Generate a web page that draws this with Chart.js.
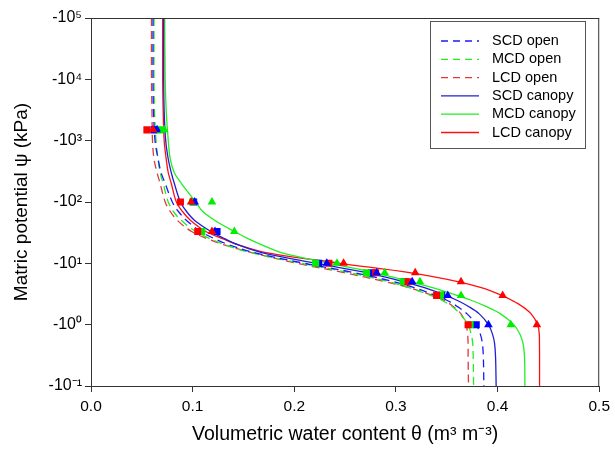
<!DOCTYPE html>
<html><head><meta charset="utf-8">
<script src="https://cdn.jsdelivr.net/npm/chart.js@4.4.1/dist/chart.umd.min.js"></script>
<style>html,body{margin:0;padding:0;background:#fff}#wrap{width:615px;height:450px}</style>
</head><body><div id="wrap"><canvas id="c" width="615" height="450"></canvas></div>
<script>
// matric potential levels (|psi|, kPa) at which fitted curves were read
const psiLevels = [100000, 10000, 3000, 1000, 500, 300, 200, 100, 70, 50, 33, 25, 20, 15, 10, 7, 5, 4, 3, 2.5, 2, 1.5, 1, 0.7, 0.5, 0.3, 0.1];
// fitted curves (theta, m3 m-3)
const scdOpenFit   = [0.061,0.061,0.0615,0.063,0.066,0.069,0.073,0.080,0.086,0.094,0.108,0.122,0.136,0.160,0.210,0.260,0.298,0.318,0.339,0.350,0.360,0.370,0.379,0.383,0.385,0.386,0.3865];
const mcdOpenFit   = [0.062,0.062,0.0625,0.064,0.066,0.068,0.071,0.076,0.081,0.089,0.103,0.118,0.132,0.157,0.207,0.255,0.293,0.313,0.334,0.345,0.355,0.363,0.371,0.374,0.3755,0.376,0.3764];
const lcdOpenFit   = [0.0595,0.0595,0.060,0.0605,0.062,0.065,0.068,0.073,0.078,0.085,0.099,0.115,0.131,0.158,0.203,0.250,0.290,0.313,0.336,0.347,0.356,0.364,0.369,0.3705,0.371,0.371,0.3714];
const scdCanopyFit = [0.0715,0.0715,0.072,0.0735,0.076,0.079,0.082,0.088,0.094,0.102,0.118,0.132,0.145,0.168,0.222,0.272,0.308,0.328,0.349,0.360,0.371,0.382,0.391,0.395,0.397,0.398,0.3986];
const mcdCanopyFit = [0.0725,0.073,0.074,0.076,0.078,0.082,0.089,0.103,0.110,0.122,0.141,0.155,0.168,0.187,0.235,0.280,0.315,0.336,0.360,0.374,0.388,0.403,0.416,0.422,0.425,0.4265,0.4269];
const lcdCanopyFit = [0.0705,0.0705,0.071,0.072,0.074,0.076,0.079,0.084,0.090,0.098,0.113,0.130,0.145,0.172,0.245,0.315,0.362,0.384,0.404,0.414,0.424,0.433,0.4395,0.441,0.4412,0.4413,0.4413];
// measured points
const obsPsi = [1500, 100, 33, 10, 7, 5, 3, 1];
const scdOpenObs   = [0.062, 0.101, 0.124, 0.224, 0.276, 0.309, 0.345, 0.379];
const mcdOpenObs   = [0.068, 0.100, 0.109, 0.221, 0.271, 0.307, 0.344, 0.373];
const lcdOpenObs   = [0.055, 0.088, 0.105, 0.234, 0.280, 0.312, 0.340, 0.371];
const scdCanopyObs = [0.065, 0.102, 0.122, 0.232, 0.281, 0.316, 0.351, 0.391];
const mcdCanopyObs = [0.072, 0.119, 0.141, 0.242, 0.289, 0.3236, 0.364, 0.413];
const lcdCanopyObs = [0.061, 0.0985, 0.119, 0.2485, 0.319, 0.364, 0.405, 0.4387];
const yTickValues = [0.1, 1, 10, 100, 1000, 10000, 100000];
const yTickLabels = ['-10\u207B\u00B9', '-10\u2070', '-10\u00B9', '-10\u00B2', '-10\u00B3', '-10\u2074', '-10\u2075'];
const xTickLabels = ['0.0', '0.1', '0.2', '0.3', '0.4', '0.5'];
const seriesNames = ['SCD open', 'MCD open', 'LCD open', 'SCD canopy', 'MCD canopy', 'LCD canopy'];

const FONT = "'Liberation Sans', Arial, sans-serif";
const pts = (th, ps) => th.map((t, i) => ({x: t, y: ps[i]}));
const BLUE = '#0000ff', GREEN = '#00ee00', RED = '#ff0000';
const styles = [
  {c: '#1a1aff', dash: [8, 5]},
  {c: '#22ee22', dash: [8, 5]},
  {c: '#dd3a3a', dash: [8, 5]},
  {c: '#2020d0', dash: []},
  {c: '#22ee22', dash: []},
  {c: '#ff1010', dash: []}
];
const fits = [scdOpenFit, mcdOpenFit, lcdOpenFit, scdCanopyFit, mcdCanopyFit, lcdCanopyFit];
const obs = [scdOpenObs, mcdOpenObs, lcdOpenObs, scdCanopyObs, mcdCanopyObs, lcdCanopyObs];
const markerColors = [BLUE, GREEN, RED, BLUE, GREEN, RED];

const datasets = [];
fits.forEach((f, i) => datasets.push({
  label: seriesNames[i], data: pts(f, psiLevels), showLine: true, pointRadius: 0,
  borderColor: styles[i].c, borderWidth: 1.3, borderDash: styles[i].dash, tension: 0.35,
  order: 20 + i
}));
const markerOrder = [5, 4, 3, 2, 1, 0];
obs.forEach((o, i) => datasets.push({
  label: seriesNames[i] + ' obs', data: pts(o, obsPsi), showLine: false,
  pointStyle: i < 3 ? 'rect' : 'triangle', pointRadius: 5,
  backgroundColor: markerColors[i], borderColor: markerColors[i], borderWidth: 0,
  order: markerOrder[i]
}));

const framePlugin = {
  id: 'frame',
  afterDraw(chart) {
    const {ctx, chartArea: a} = chart;
    ctx.save();
    ctx.strokeStyle = '#333'; ctx.lineWidth = 1;
    ctx.beginPath();
    ctx.moveTo(a.left, a.top + 0.5); ctx.lineTo(a.right, a.top + 0.5);
    ctx.moveTo(a.right - 0.5, a.top); ctx.lineTo(a.right - 0.5, a.bottom);
    ctx.stroke();
    const bx = 430.5, by = 21.5, bw = 155, bh = 127;
    ctx.fillStyle = '#fff'; ctx.fillRect(bx, by, bw, bh);
    ctx.strokeStyle = '#555'; ctx.strokeRect(bx, by, bw, bh);
    ctx.font = '14.5px ' + FONT; ctx.textBaseline = 'middle'; ctx.fillStyle = '#000';
    seriesNames.forEach((n, i) => {
      const y = 41 + i * 18.3;
      ctx.strokeStyle = styles[i].c; ctx.lineWidth = 1.3;
      ctx.setLineDash(styles[i].dash.length ? [7, 5] : []);
      ctx.beginPath(); ctx.moveTo(441, y); ctx.lineTo(479, y); ctx.stroke();
      ctx.setLineDash([]);
      ctx.fillText(n, 492, y);
    });
    ctx.restore();
  }
};

new Chart(document.getElementById('c'), {
  type: 'scatter',
  data: {datasets},
  options: {
    responsive: false, animation: false, devicePixelRatio: 1,
    layout: {padding: {left: 0, top: 18, right: 13, bottom: 0}},
    plugins: {legend: {display: false}, tooltip: {enabled: false}},
    scales: {
      x: {
        type: 'linear', min: 0, max: 0.5,
        afterBuildTicks: s => { s.ticks = xTickLabels.map(t => ({value: parseFloat(t)})); },
        afterFit: s => { s.height = 64; },
        ticks: {callback: (v, i) => xTickLabels[i], color: '#000', font: {family: FONT, size: 15.5}, padding: 5, maxRotation: 0},
        grid: {display: true, drawOnChartArea: false, drawTicks: true, tickLength: 6, color: '#333'},
        border: {display: true, color: '#333'},
        title: {display: true, text: 'Volumetric water content \u03B8 (m\u00B3 m\u207B\u00B3)', color: '#000', font: {family: FONT, size: 19.5}, padding: {top: 5}}
      },
      y: {
        type: 'logarithmic', min: 0.1, max: 100000,
        afterBuildTicks: s => { s.ticks = yTickValues.map(v => ({value: v})); },
        afterFit: s => { s.width = 91; },
        ticks: {callback: (v, i) => yTickLabels[i], color: '#000', font: {family: FONT, size: 16}, padding: 3, autoSkip: false},
        grid: {display: true, drawOnChartArea: false, drawTicks: true, tickLength: 6, color: '#333'},
        border: {display: true, color: '#333'},
        title: {display: true, text: 'Matric potential \u03C8 (kPa)', color: '#000', font: {family: FONT, size: 19}, padding: {top: 10, bottom: 0}}
      }
    }
  },
  plugins: [framePlugin]
});
</script></body></html>
